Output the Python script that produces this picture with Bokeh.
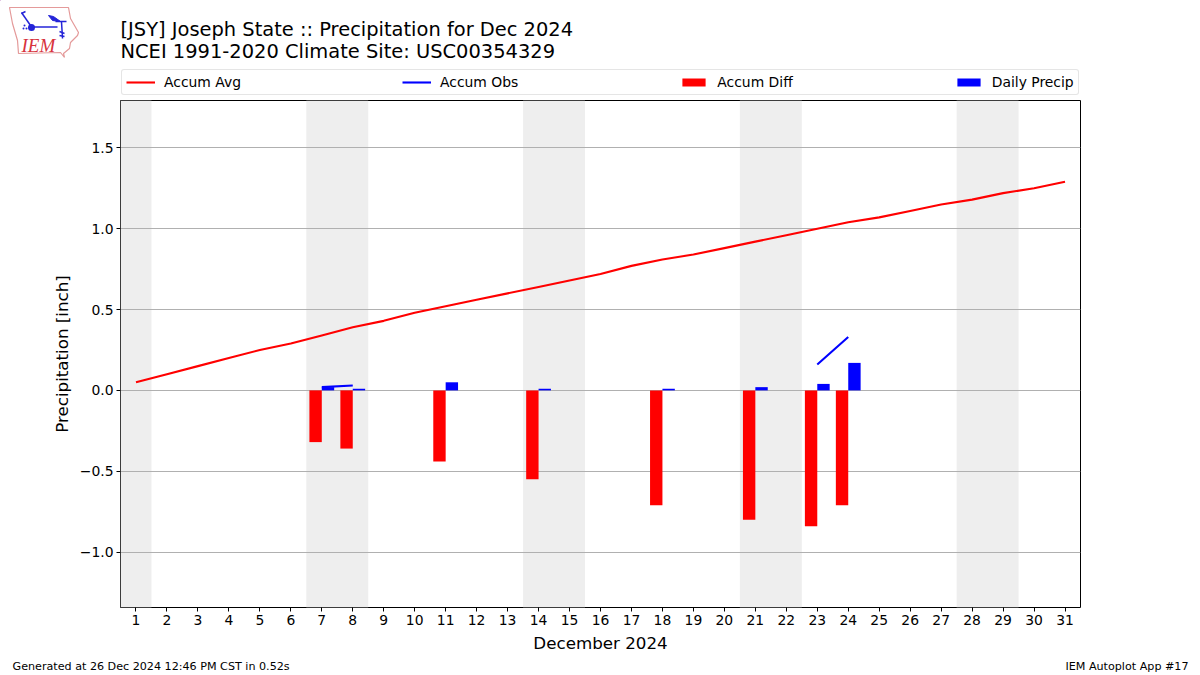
from bokeh.plotting import figure
from bokeh.layouts import column
from bokeh.embed import file_html
from bokeh.resources import INLINE
from bokeh.models import Legend, LegendItem, FixedTicker
from bokeh.core.properties import value
import numpy as np

days = list(range(1, 32))
accum_avg = [0.05, 0.10, 0.15, 0.20, 0.25, 0.29, 0.34, 0.39, 0.43, 0.48, 0.52, 0.56, 0.60, 0.64, 0.68, 0.72,
             0.77, 0.81, 0.84, 0.88, 0.92, 0.96, 1.00, 1.04, 1.07, 1.11, 1.15, 1.18, 1.22, 1.25, 1.29]
rain_days = [7, 8, 11, 14, 18, 21, 23, 24]
daily_precip = [0.02, 0.01, 0.05, 0.01, 0.01, 0.02, 0.04, 0.17]
accum_diff = [-0.32, -0.36, -0.44, -0.55, -0.71, -0.80, -0.84, -0.71]
obs_days = [7, 8, np.nan, 23, 24]
accum_obs = [0.02, 0.03, np.nan, 0.16, 0.33]
weekend_starts = [0.5, 6.5, 13.5, 20.5, 27.5]
weekend_ends = [1.5, 8.5, 15.5, 22.5, 29.5]
y_ticks = [-1.0, -0.5, 0.0, 0.5, 1.0, 1.5]
y_labels = {-1.0: "\u22121.0", -0.5: "\u22120.5", 0.0: "0.0", 0.5: "0.5", 1.0: "1.0", 1.5: "1.5"}
title_lines = ["[JSY] Joseph State :: Precipitation for Dec 2024", "NCEI 1991-2020 Climate Site: USC00354329"]
legend_labels = ["Accum Avg", "Accum Obs", "Accum Diff", "Daily Precip"]
footer_left = "Generated at 26 Dec 2024 12:46 PM CST in 0.52s"
footer_right = "IEM Autoplot App #17"
FONT = "DejaVu Sans"
YMIN, YMAX = -1.343, 1.793


def strip(height, y0, y1):
    f = figure(width=1200, height=height, output_backend="svg", toolbar_location=None,
               x_range=(0, 1200), y_range=(y1, y0), min_border=0, outline_line_color=None,
               frame_align=False)
    f.axis.visible = False
    f.grid.visible = False
    return f


# header strip: logo, title and legend, in page pixels
head = strip(100, 0, 100)
for line, base in zip(title_lines, (29, 51)):
    head.text([120], [base], text=[line], text_font=value(FONT), text_font_size="19.45px",
              text_baseline="alphabetic", text_color="black")
outline_x = [9, 68, 70, 78, 77, 70, 69, 63, 64, 60, 18, 17, 12]
outline_y = [7, 7, 18, 32, 35, 42, 48, 53, 57, 52, 53, 40, 23]
head.patch(outline_x, outline_y, fill_color=None, line_color="#e49a9a", line_width=1.2)
stroke_x = [[31, 57], [21, 30], [21, 25], [55, 66], [61, 62], [59, 64], [59, 64]]
stroke_y = [[26.5, 26.5], [12, 25], [13, 11], [21, 21], [21, 38], [31, 33], [35, 36]]
head.multi_line(stroke_x, stroke_y, line_color="#2424d8", line_width=1.5)
head.patch([48, 53, 60, 52], [15, 16, 21, 20], fill_color="#2424d8", line_color="#2424d8")
head.scatter([31, 24, 26, 23], [27, 25, 28, 28], size=[7, 2, 2, 2], marker="circle",
             fill_color="#2424d8", line_color=None)
head.text([21], [45], text=["IEM"], text_font=value("Liberation Serif"), text_font_style="italic",
          text_font_size="19px", text_baseline="alphabetic", text_color="#d8323c")

# legend handles share the main chart's styling; they sit outside this strip's visible range
off = [-100, -90]
leg_avg = head.line(off, off, line_color="red", line_width=2.1)
leg_obs = head.line(off, off, line_color="blue", line_width=2.1)
leg_diff = head.vbar(x=off, top=off, bottom=off, width=0.4, fill_color="red", line_color=None)
leg_daily = head.vbar(x=off, top=off, bottom=off, width=0.4, fill_color="blue", line_color=None)
legend = Legend(items=[LegendItem(label=t, renderers=[r]) for t, r in
                       zip(legend_labels, [leg_avg, leg_obs, leg_diff, leg_daily])],
                orientation="horizontal", location=(121, 5),
                spacing=161, padding=4, margin=0,
                glyph_width=29, glyph_height=10, label_standoff=9,
                label_text_font=FONT, label_text_font_size="13.9px", label_text_color="black",
                border_line_color="#cccccc", border_line_width=1,
                background_fill_color="white", background_fill_alpha=1)
if "border_radius" in Legend.properties():
    legend.border_radius = 3
head.add_layout(legend, "center")

# main chart
p = figure(width=1200, height=555, output_backend="svg", toolbar_location=None,
           x_range=(0.5, 31.5), y_range=(YMIN, YMAX), frame_align=False,
           min_border_left=120, min_border_right=120, min_border_top=0, min_border_bottom=47)
p.background_fill_color = "white"
p.border_fill_color = "white"
p.outline_line_color = "black"
p.outline_line_width = 1
p.xgrid.visible = False
p.ygrid.grid_line_color = "#b0b0b0"
p.ygrid.grid_line_width = 1.1
p.xaxis.ticker = FixedTicker(ticks=days)
p.yaxis.ticker = FixedTicker(ticks=y_ticks)
p.yaxis.major_label_overrides = y_labels
p.xaxis.axis_label = "December 2024"
p.yaxis.axis_label = "Precipitation [inch]"
for ax in (p.xaxis[0], p.yaxis[0]):
    ax.axis_label_text_font = FONT
    ax.axis_label_text_font_size = "16.7px"
    ax.axis_label_text_font_style = "normal"
    ax.axis_label_text_color = "black"
    ax.major_label_text_font = FONT
    ax.major_label_text_font_size = "13.9px"
    ax.major_label_text_color = "black"
    ax.major_tick_in = 0
    ax.major_tick_out = 4
    ax.minor_tick_in = 0
    ax.minor_tick_out = 0
    ax.axis_line_color = None
    ax.major_tick_line_color = "black"
    ax.major_label_standoff = 3
    ax.axis_label_standoff = 5

p.quad(left=weekend_starts, right=weekend_ends, bottom=YMIN, top=YMAX,
       fill_color="#eeeeee", line_color=None, level="image")
p.line(days, accum_avg, line_color="red", line_width=2.1)
p.line(obs_days, accum_obs, line_color="blue", line_width=2.1)
p.vbar(x=[d - 0.2 for d in rain_days], top=accum_diff, bottom=0, width=0.4, fill_color="red", line_color=None)
p.vbar(x=[d + 0.2 for d in rain_days], top=daily_precip, bottom=0, width=0.4, fill_color="blue", line_color=None)

# footer strip, in page pixels
foot = strip(20, 655, 675)
foot.text([12], [666], text=[footer_left], text_font=value(FONT), text_font_size="11.15px",
          text_baseline="alphabetic", text_color="black")
foot.text([1188], [666], text=[footer_right], text_font=value(FONT), text_font_size="11.15px",
          text_align="right", text_baseline="alphabetic", text_color="black")

open("out.html", "w").write(file_html(column(head, p, foot, spacing=0), INLINE))
